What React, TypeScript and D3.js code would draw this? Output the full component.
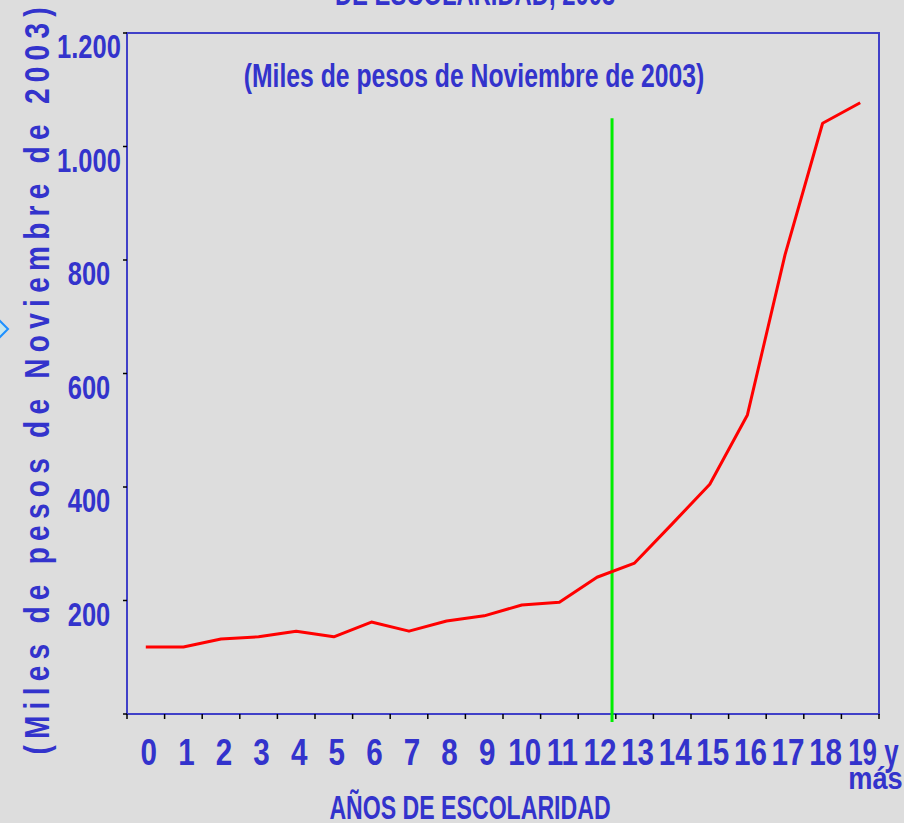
import React from 'react';
import * as d3 from 'd3';

// Años de escolaridad (the last one is "19 y más")
const years = ['0', '1', '2', '3', '4', '5', '6', '7', '8', '9', '10', '11', '12', '13', '14', '15', '16', '17', '18', '19 y|más'];
// Ingreso, miles de pesos de noviembre de 2003
const income = [118, 118, 132, 136, 146, 136, 162, 146, 164, 173, 192, 197, 241, 266, 335, 405, 527, 809, 1041, 1077];
const yTicks = [200, 400, 600, 800, 1000, 1200];
const markerYear = 12.4; // green reference line (secundaria completa)
const markerTop = 1050;

const W = 904;
const H = 823;
const margin = { top: 33, right: 25, bottom: 109, left: 127 };

const BLUE = '#3333cc';
const FONT = '"Liberation Sans", Arial, sans-serif';

const locale = d3.formatLocale({ decimal: ',', thousands: '.', grouping: [3], currency: ['$', ''] });
const fmt = locale.format(',');

// condensed text helper (no narrow font available, so squeeze horizontally)
const SText: React.FC<{ x: number; y: number; size: number; sx?: number; anchor?: string; children: React.ReactNode }> = ({ x, y, size, sx = 1, anchor = 'middle', children }) => (
    <text
        transform={`translate(${x},${y}) scale(${sx},1)`}
        textAnchor={anchor}
        fontFamily={FONT}
        fontWeight="bold"
        fontSize={size}
        fill={BLUE}
    >
        {children}
    </text>
);

const App: React.FC = () => {
    const x = d3.scaleLinear()
        .domain([-0.5, years.length - 0.5])
        .range([margin.left, W - margin.right]);

    const y = d3.scaleLinear()
        .domain([0, 1200])
        .range([H - margin.bottom, margin.top]);

    const line = d3.line<number>()
        .x((_, i) => x(i))
        .y(d => y(d));

    const x0 = x.range()[0];
    const x1 = x.range()[1];
    const y0 = y.range()[0];
    const y1 = y.range()[1];

    const xTickPos = d3.range(years.length + 1).map(i => x(i - 0.5));

    return (
        <svg width={W} height={H} style={{ position: 'absolute', left: 0, top: 0, background: '#dddddd' }}>
            <rect x={0} y={0} width={W} height={H} fill="#dddddd" />

            {/* decoration on the left edge */}
            <polygon points="-14,329 -3,318 8,329 -3,340" fill="#c6e6ee" stroke="#1e90ff" strokeWidth={2} />

            {/* cut-off title */}
            <SText x={475} y={5} size={34} sx={0.7}>DE ESCOLARIDAD, 2003</SText>

            {/* plot frame */}
            <rect x={x0} y={y1} width={x1 - x0} height={y0 - y1} fill="none" stroke="#4040c8" strokeWidth={2} />

            {/* y ticks */}
            {[0, ...yTicks].map(t => (
                <line key={'yt' + t} x1={x0 - 4} x2={x0} y1={y(t)} y2={y(t)} stroke="#000" strokeWidth={1.5} />
            ))}
            {yTicks.map(t => (
                <SText key={'yl' + t} x={89} y={y(t) + 25} size={34} sx={0.75}>{fmt(t)}</SText>
            ))}

            {/* x ticks */}
            {xTickPos.map((p, i) => (
                <line key={'xt' + i} x1={p} x2={p} y1={y0} y2={y0 + 5} stroke="#000" strokeWidth={1.5} />
            ))}
            {years.map((label, i) => {
                const parts = label.split('|');
                if (parts.length > 1) {
                    return (
                        <g key={'xl' + i}>
                            <SText x={x(i) - 12} y={765} size={37} sx={0.7} anchor="start">{parts[0]}</SText>
                            <SText x={x(i) - 12} y={789} size={32} sx={0.85} anchor="start">{parts[1]}</SText>
                        </g>
                    );
                }
                return <SText key={'xl' + i} x={x(i) + 3} y={765} size={37} sx={0.8}>{label}</SText>;
            })}

            {/* subtitle inside plot */}
            <SText x={474} y={87} size={33} sx={0.75}>(Miles de pesos de Noviembre de 2003)</SText>

            {/* axis titles */}
            <SText x={470} y={819} size={34} sx={0.68}>AÑOS DE ESCOLARIDAD</SText>
            <text
                transform="translate(49,381) rotate(-90) scale(0.8,1)"
                textAnchor="middle"
                fontFamily={FONT}
                fontWeight="bold"
                fontSize={35}
                fill={BLUE}
                textLength={934}
                lengthAdjust="spacing"
            >
                (Miles de pesos de Noviembre de 2003)
            </text>

            {/* reference line */}
            <line x1={x(markerYear)} x2={x(markerYear)} y1={y(markerTop)} y2={y0 + 8} stroke="#00ee00" strokeWidth={3} />

            {/* income line */}
            <path d={line(income) || ''} fill="none" stroke="#ff0000" strokeWidth={3} strokeLinejoin="round" />
        </svg>
    );
};

export default App;
